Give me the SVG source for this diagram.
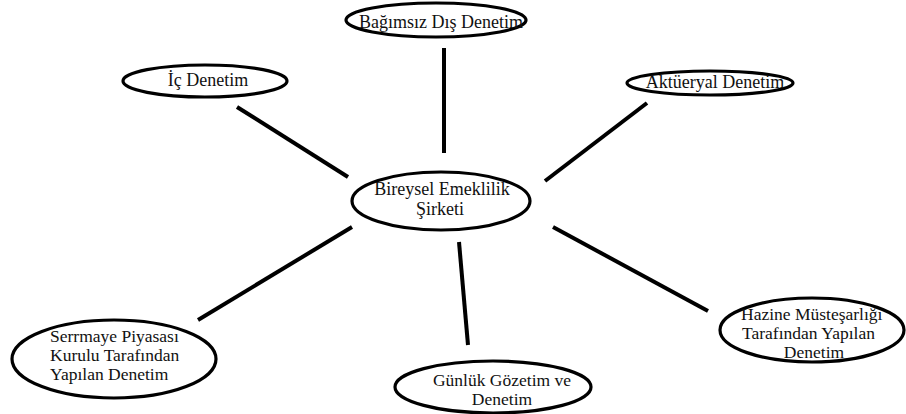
<svg xmlns="http://www.w3.org/2000/svg" width="906" height="414" viewBox="0 0 906 414">
<style>
.n ellipse{fill:#fff;stroke:#000;stroke-width:3.2}
.n text{font-family:"Liberation Serif","Times New Roman",serif;font-size:18px;fill:#111}
.n text.s{font-size:17.5px}
.c line{stroke:#000;stroke-width:4;stroke-linecap:butt}
</style>
<rect width="906" height="414" fill="#fff"/>
<g id="connectors" class="c">
<line x1="444" y1="48" x2="444" y2="153"/>
<line x1="237" y1="107" x2="348" y2="177"/>
<line x1="647" y1="103" x2="545" y2="181"/>
<line x1="352" y1="227" x2="198" y2="320"/>
<line x1="553" y1="227" x2="708" y2="311"/>
<line x1="459" y1="242" x2="468" y2="345"/>
</g>
<g id="bagimsiz" class="n">
<ellipse cx="436" cy="20" rx="90" ry="17"/>
<text x="441" y="28" text-anchor="middle">Bağımsız Dış Denetim</text>
</g>
<g id="ic" class="n">
<ellipse cx="205" cy="81" rx="82" ry="16"/>
<text x="208" y="86" text-anchor="middle">İç Denetim</text>
</g>
<g id="akt" class="n">
<ellipse cx="710" cy="83" rx="83" ry="12"/>
<text x="715" y="88" text-anchor="middle">Aktüeryal Denetim</text>
</g>
<g id="merkez" class="n">
<ellipse cx="441" cy="201" rx="89" ry="29"/>
<text x="442" y="195" text-anchor="middle">Bireysel Emeklilik</text>
<text x="440" y="215" text-anchor="middle">Şirketi</text>
</g>
<g id="spk" class="n">
<ellipse cx="114" cy="359" rx="102" ry="39"/>
<text class="s" x="50" y="342">Serrmaye Piyasası</text>
<text class="s" x="50" y="361">Kurulu Tarafından</text>
<text class="s" x="50" y="380">Yapılan Denetim</text>
</g>
<g id="hazine" class="n">
<ellipse cx="812" cy="330" rx="92" ry="32"/>
<text class="s" x="741" y="320">Hazine Müsteşarlığı</text>
<text class="s" x="742" y="339">Tarafından Yapılan</text>
<text class="s" x="814" y="358" text-anchor="middle">Denetim</text>
</g>
<g id="gunluk" class="n">
<ellipse cx="493" cy="387" rx="98" ry="26"/>
<text class="s" x="502" y="386" text-anchor="middle">Günlük Gözetim ve</text>
<text class="s" x="502" y="405" text-anchor="middle">Denetim</text>
</g>
</svg>
